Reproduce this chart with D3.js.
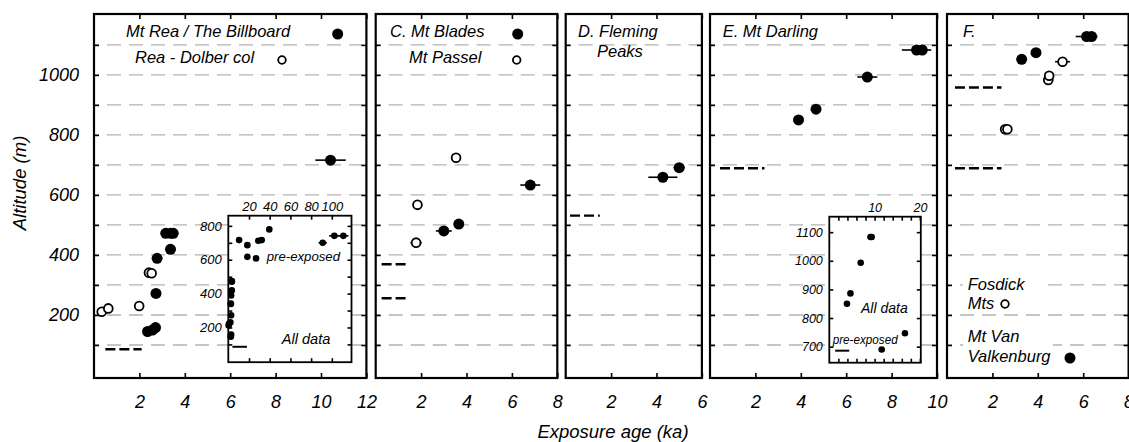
<!DOCTYPE html>
<meta charset="utf-8">
<script src="https://d3js.org/d3.v7.min.js"></script>
<style>
body { margin:0; background:#fff; }
svg { display:block; font-family:"Liberation Sans", Arial, Helvetica, sans-serif; font-style:italic; }
.frame { fill:none; stroke:#000; stroke-width:2.2; }
.inset-frame { fill:#fff; stroke:#000; stroke-width:1.8; }
.grid { stroke:#b3b3b3; stroke-width:1.3; stroke-dasharray:14,8; stroke-dashoffset:9; }
.level { stroke:#000; stroke-width:2.4; stroke-dasharray:10,4; }
.inset-level { stroke:#000; stroke-width:2; }
.err { stroke:#000; stroke-width:1.6; }
.filled { fill:#000; }
.open { fill:#fff; stroke:#000; stroke-width:1.8; }
.axis .domain { display:none; }
.axis line { stroke:#000; stroke-width:1.6; }
.axis text { fill:#000; font-style:italic; }
</style>
<body></body>
<script>

// altitude axis
var gridAlts = [100, 200, 300, 400, 500, 600, 700, 800, 900, 1000, 1100];
var altLabels = [200, 400, 600, 800, 1000];

// Mt Rea / The Billboard (filled) and Rea - Dolber col (open): [ka, m, +/- ka]
var reaFilled = [[2.36, 145, 0], [2.58, 150, 0], [2.71, 158, 0], [2.73, 272, 0], [2.78, 389, 0],
                 [3.37, 419, 0], [3.16, 472, 0], [3.38, 472, 0], [3.49, 472, 0], [10.42, 716, 0.67]];
var reaOpen = [[0.34, 211, 0], [0.63, 222, 0], [1.99, 230, 0], [2.42, 341, 0], [2.54, 339, 0]];
var reaLevels = [[0.5, 2.1, 86]];
var reaPreExposed = [[18.4, 686, 0], [18.4, 617, 0], [26.8, 608, 0], [29, 712, 0], [32.3, 716, 0],
                     [39.6, 779, 0], [91.2, 700, 4], [102.4, 741, 5], [111.1, 741, 5]];
var reaInsetLevel = [[4, 18, 86]];

// C. Mt Blades (filled), Mt Passel (open)
var bladesFilled = [[3.0, 480, 0.35], [3.66, 503, 0], [6.81, 633, 0.44]];
var passelOpen = [[1.84, 567, 0], [1.78, 441, 0.25], [3.54, 724, 0]];
var bladesLevels = [[0.26, 1.37, 369], [0.26, 1.37, 256]];

// D. Fleming Peaks
var flemingFilled = [[4.28, 659, 0.64], [5.0, 691, 0.25]];
var flemingLevels = [[0.19, 1.5, 531]];

// E. Mt Darling
var darlingFilled = [[3.9, 850, 0], [4.67, 886, 0], [6.93, 993, 0.44], [9.1, 1083, 0.65], [9.35, 1083, 0]];
var darlingLevels = [[0.44, 2.4, 689]];
var darlingPreExposed = [[11.57, 690, 0], [16.7, 747, 0.6]];
var darlingInsetLevel = [[1.3, 4.4, 686]];

// F. Mt Van Valkenburg (filled), Fosdick Mts (open)
var vanFilled = [[3.29, 1052, 0], [3.92, 1074, 0.22], [6.15, 1128, 0.48], [6.37, 1128, 0]];
var fosdickOpen = [[2.56, 819, 0], [2.66, 819, 0], [4.46, 983, 0.22], [4.5, 997, 0], [5.09, 1044, 0.33]];
var fLevels = [[0.35, 2.4, 958], [0.35, 2.4, 689]];

var width = 1129, height = 442;
var kaPx = 22.7;
var plotTop = 14, plotBottom = 378;
var fmt = d3.format("d");

var svg = d3.select("body").append("svg")
  .attr("width", width)
  .attr("height", height);

var y = d3.scaleLinear()
  .domain([-10, 1203])
  .range([plotBottom, plotTop]);

var panels = [
  {x0: 94, ka: 12, ticks: [2, 4, 6, 8, 10, 12], filled: reaFilled, open: reaOpen, levels: reaLevels, yLabels: true},
  {x0: 375.7, ka: 8, ticks: [2, 4, 6, 8], filled: bladesFilled, open: passelOpen, levels: bladesLevels},
  {x0: 565.7, ka: 6, ticks: [2, 4, 6], filled: flemingFilled, open: [], levels: flemingLevels},
  {x0: 710, ka: 10, ticks: [2, 4, 6, 8, 10], filled: darlingFilled, open: [], levels: darlingLevels},
  {x0: 947, ka: 8, ticks: [2, 4, 6, 8], filled: vanFilled, open: fosdickOpen, levels: fLevels}
];

function errBars(g, data, x, yy) {
  g.selectAll(null)
    .data(data.filter(function(d) { return d[2] > 0; }))
    .enter().append("line")
    .attr("class", "err")
    .attr("x1", function(d) { return x(d[0] - d[2]); })
    .attr("x2", function(d) { return x(d[0] + d[2]); })
    .attr("y1", function(d) { return yy(d[1]); })
    .attr("y2", function(d) { return yy(d[1]); });
}

function dots(g, data, x, yy, cls, r) {
  g.selectAll(null)
    .data(data).enter().append("circle")
    .attr("class", cls)
    .attr("r", r)
    .attr("cx", function(d) { return x(d[0]); })
    .attr("cy", function(d) { return yy(d[1]); });
}

function styleAxis(sel, size) {
  sel.attr("class", "axis")
    .attr("font-family", null)
    .attr("font-size", size);
}

function drawPanel(p) {
  var x = d3.scaleLinear()
    .domain([0, p.ka])
    .range([p.x0, p.x0 + p.ka * kaPx]);
  p.x = x;

  var g = svg.append("g");

  g.selectAll(".grid")
    .data(gridAlts).enter().append("line")
    .attr("class", "grid")
    .attr("x1", x(0)).attr("x2", x(p.ka))
    .attr("y1", function(d) { return y(d); })
    .attr("y2", function(d) { return y(d); });

  g.selectAll(".level")
    .data(p.levels).enter().append("line")
    .attr("class", "level")
    .attr("x1", function(d) { return x(d[0]); })
    .attr("x2", function(d) { return x(d[1]); })
    .attr("y1", function(d) { return y(d[2]); })
    .attr("y2", function(d) { return y(d[2]); });

  p.g = g;
  return g;
}

function drawMarks(p) {
  var g = p.g.append("g");
  errBars(g, p.filled.concat(p.open), p.x, y);
  dots(g, p.filled, p.x, y, "filled", 5.5);
  dots(g, p.open, p.x, y, "open", 4.4);

  var x = p.x;
  p.g.append("rect")
    .attr("class", "frame")
    .attr("x", x(0)).attr("y", plotTop)
    .attr("width", x(p.ka) - x(0)).attr("height", plotBottom - plotTop);

  p.g.append("g")
    .attr("transform", "translate(0," + plotBottom + ")")
    .call(d3.axisBottom(x).tickValues(p.ticks).tickSizeInner(-5).tickSizeOuter(0).tickPadding(17).tickFormat(fmt))
    .call(styleAxis, 18);

  p.g.append("g")
    .attr("transform", "translate(0," + plotTop + ")")
    .call(d3.axisTop(x).tickValues(p.ticks).tickSizeInner(-5).tickSizeOuter(0).tickFormat(""))
    .call(styleAxis, 18);

  p.g.append("g")
    .attr("transform", "translate(" + x(0) + ",0)")
    .call(d3.axisLeft(y).tickValues(gridAlts).tickSizeInner(-5).tickSizeOuter(0).tickPadding(15)
      .tickFormat(function(d) { return (p.yLabels && altLabels.indexOf(d) >= 0) ? fmt(d) : ""; }))
    .call(styleAxis, 18);

  p.g.append("g")
    .attr("transform", "translate(" + x(p.ka) + ",0)")
    .call(d3.axisRight(y).tickValues(gridAlts).tickSizeInner(-5).tickSizeOuter(0).tickFormat(""))
    .call(styleAxis, 18);
}

function drawInset(c) {
  var x = d3.scaleLinear().domain(c.xDomain).range([c.left, c.right]);
  var yy = d3.scaleLinear().domain(c.yDomain).range([c.bottom, c.top]);
  var g = svg.append("g");

  g.append("rect")
    .attr("class", "inset-frame")
    .attr("x", c.left).attr("y", c.top)
    .attr("width", c.right - c.left).attr("height", c.bottom - c.top);

  g.selectAll(null)
    .data(c.level).enter().append("line")
    .attr("class", "inset-level")
    .attr("x1", function(d) { return x(d[0]); })
    .attr("x2", function(d) { return x(d[1]); })
    .attr("y1", function(d) { return yy(d[2]); })
    .attr("y2", function(d) { return yy(d[2]); });

  errBars(g, c.points, x, yy);
  dots(g, c.points, x, yy, "filled", 3.3);

  g.append("g")
    .attr("transform", "translate(0," + c.top + ")")
    .call(d3.axisTop(x).tickValues(c.xTicks).tickSizeInner(-4).tickSizeOuter(0).tickPadding(5)
      .tickFormat(function(d) { return c.xLabels.indexOf(d) >= 0 ? fmt(d) : ""; }))
    .call(styleAxis, c.font);

  g.append("g")
    .attr("transform", "translate(0," + c.bottom + ")")
    .call(d3.axisBottom(x).tickValues(c.xTicks).tickSizeInner(-4).tickSizeOuter(0).tickFormat(""))
    .call(styleAxis, c.font);

  g.append("g")
    .attr("transform", "translate(" + c.left + ",0)")
    .call(d3.axisLeft(yy).tickValues(c.yTicks).tickSizeInner(-4).tickSizeOuter(0).tickPadding(6.5)
      .tickFormat(function(d) { return c.yLabels.indexOf(d) >= 0 ? fmt(d) : ""; }))
    .call(styleAxis, c.font);

  g.append("g")
    .attr("transform", "translate(" + c.right + ",0)")
    .call(d3.axisRight(yy).tickValues(c.yTicks).tickSizeInner(-4).tickSizeOuter(0).tickFormat(""))
    .call(styleAxis, c.font);

  c.notes.forEach(function(n) {
    var t = g.append("text")
      .attr("x", n[1]).attr("y", n[2])
      .attr("font-size", n[3])
      .text(n[0]);
    if (n[4]) t.attr("textLength", n[4]).attr("lengthAdjust", "spacingAndGlyphs");
  });
}

panels.forEach(drawPanel);

drawInset({
  left: 228.3, right: 351.5, top: 215.7, bottom: 362.2,
  xDomain: [0, 119], yDomain: [-5, 860],
  xTicks: [20, 40, 60, 80, 100], xLabels: [20, 40, 60, 80, 100],
  yTicks: [100, 200, 300, 400, 500, 600, 700, 800], yLabels: [200, 400, 600, 800],
  font: 13,
  points: reaFilled.concat(reaOpen, reaPreExposed),
  level: reaInsetLevel,
  notes: [["pre-exposed", 266.7, 261, 13.2], ["All data", 281.7, 344.3, 14.6]]
});

drawInset({
  left: 829.3, right: 920.8, top: 216.7, bottom: 362.7,
  xDomain: [0, 20.2], yDomain: [644, 1154],
  xTicks: [2, 4, 6, 8, 10, 12, 14, 16, 18, 20], xLabels: [10, 20],
  yTicks: [700, 800, 900, 1000, 1100], yLabels: [700, 800, 900, 1000, 1100],
  font: 12.5,
  points: darlingFilled.concat(darlingPreExposed),
  level: darlingInsetLevel,
  notes: [["All data", 861, 313.3, 14], ["pre-exposed", 832.7, 344, 12.5, 65]]
});

panels.forEach(drawMarks);

// panel titles and legends
var titles = [
  ["Mt Rea / The Billboard", 126, 37], ["Rea - Dolber col", 135, 63],
  ["C. Mt Blades", 390, 37], ["Mt Passel", 409, 63],
  ["D. Fleming", 578, 37], ["Peaks", 597, 57],
  ["E. Mt Darling", 722.7, 37],
  ["F.", 963, 37]
];
svg.selectAll(".title")
  .data(titles).enter().append("text")
  .attr("class", "title")
  .attr("x", function(d) { return d[1]; })
  .attr("y", function(d) { return d[2]; })
  .attr("font-size", 16.5)
  .text(function(d) { return d[0]; });

svg.append("circle").attr("class", "filled").attr("cx", 337.7).attr("cy", 34).attr("r", 5.5);
svg.append("circle").attr("class", "open").attr("cx", 282).attr("cy", 60).attr("r", 3.8);
svg.append("circle").attr("class", "filled").attr("cx", 517.7).attr("cy", 34).attr("r", 5.5);
svg.append("circle").attr("class", "open").attr("cx", 516.7).attr("cy", 60).attr("r", 3.8);

// F legend blocks (white behind)
svg.append("rect").attr("x", 963).attr("y", 276).attr("width", 77).attr("height", 17).attr("fill", "#fff");
svg.append("rect").attr("x", 963).attr("y", 328).attr("width", 90).attr("height", 38).attr("fill", "#fff");
var fLegend = [["Fosdick", 967.7, 290], ["Mts", 967.7, 309], ["Mt Van", 967.7, 341.7], ["Valkenburg", 967.7, 362]];
svg.selectAll(".flegend")
  .data(fLegend).enter().append("text")
  .attr("class", "flegend")
  .attr("x", function(d) { return d[1]; })
  .attr("y", function(d) { return d[2]; })
  .attr("font-size", 16.5)
  .text(function(d) { return d[0]; });
svg.append("circle").attr("class", "open").attr("cx", 1005).attr("cy", 304).attr("r", 3.8);
svg.append("circle").attr("class", "filled").attr("cx", 1070).attr("cy", 358).attr("r", 5.5);

// axis titles
svg.append("text")
  .attr("transform", "translate(26,183) rotate(-90)")
  .attr("text-anchor", "middle")
  .attr("font-size", 18.5)
  .text("Altitude (m)");

svg.append("text")
  .attr("x", 613).attr("y", 438)
  .attr("text-anchor", "middle")
  .attr("font-size", 18.5)
  .text("Exposure age (ka)");

</script>
